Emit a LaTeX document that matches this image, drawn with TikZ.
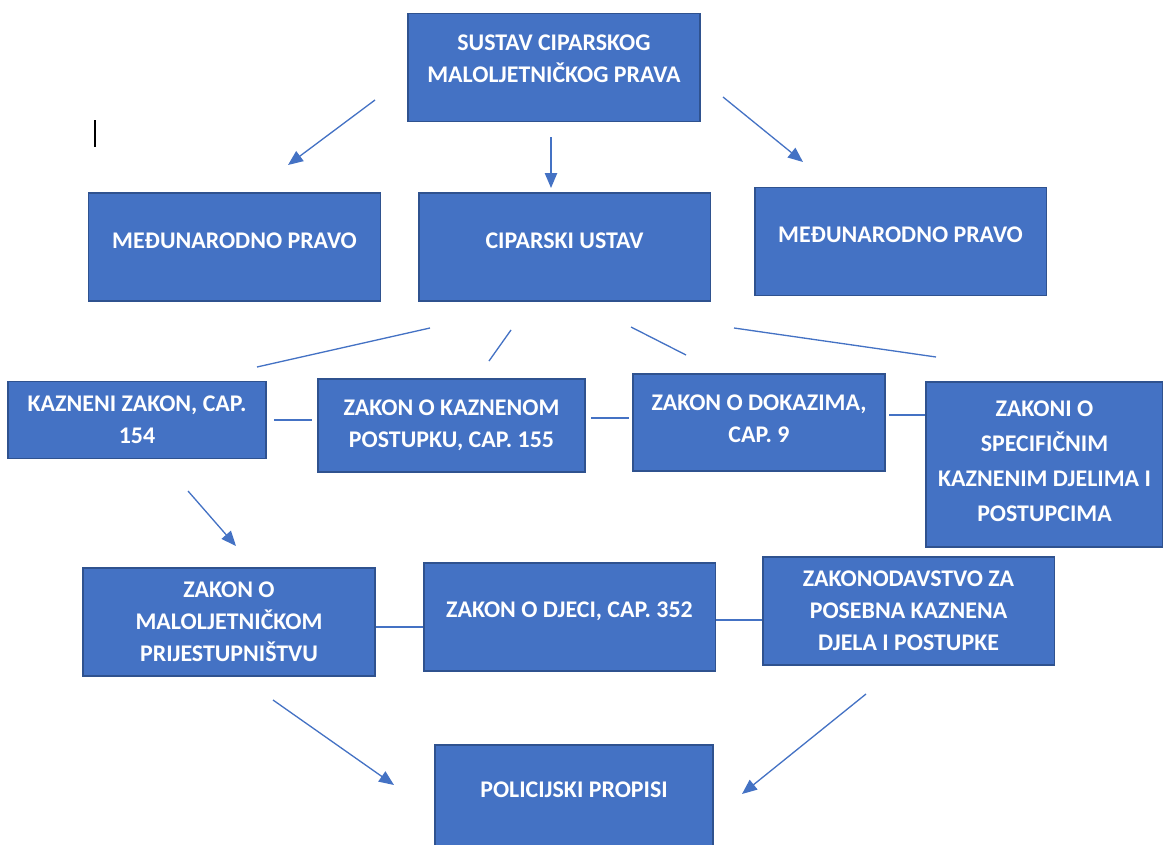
\documentclass[tikz,border=0pt]{standalone}
\usepackage{fontspec}
\setmainfont{Carlito}
\usepackage{tikz}
\usetikzlibrary{arrows.meta}
\definecolor{boxblue}{HTML}{4472C4}
\definecolor{boxline}{HTML}{2F528F}

\begin{document}
\begin{tikzpicture}[
    x=0.02cm, y=-0.02cm,
    lawbox/.style={
      draw=boxline, fill=boxblue, line width=1.1pt, align=center,
      text=white, inner sep=3pt, font=\fontsize{13.6}{18.2}\selectfont\bfseries,
      minimum width=5.84cm, minimum height=2.16cm
    },
    link/.style={draw=boxblue, line width=0.75pt},
    flow/.style={link, -{Triangle[length=8.5pt, width=7pt]}},
  ]
    \useasboundingbox (0,0) rectangle (1163,845);
    \draw[line width=0.8pt] (95,120) -- (95,147);

    \node[lawbox, text depth=0.36cm] (sustav) at (554,67.5) {SUSTAV CIPARSKOG\\MALOLJETNIČKOG PRAVA};
    \node[lawbox, text depth=0.24cm] (medjL) at (234.5,247) {MEĐUNARODNO PRAVO};
    \node[lawbox, text depth=0.24cm] (ustav) at (564.5,247) {CIPARSKI USTAV};
    \node[lawbox, text depth=0.28cm] (medjR) at (900.5,241.5) {MEĐUNARODNO PRAVO};

    \node[lawbox, minimum width=5.16cm, minimum height=1.54cm] (kazneni) at (137,420) {KAZNENI ZAKON, CAP.\\154};
    \node[lawbox, minimum width=5.34cm, minimum height=1.86cm] (postupak) at (451.5,425.5) {ZAKON O KAZNENOM\\POSTUPKU, CAP. 155};
    \node[lawbox, minimum width=5.04cm, minimum height=1.94cm, text depth=0.16cm] (dokazi) at (759,422.5) {ZAKON O DOKAZIMA,\\CAP. 9};
    \node[lawbox, minimum width=4.74cm, minimum height=3.3cm, text depth=0.14cm,
      font=\fontsize{13.6}{19.8}\selectfont\bfseries] (specificni) at (1044.5,464.5) {ZAKONI O\\SPECIFIČNIM\\KAZNENIM DJELIMA I\\POSTUPCIMA};

    \node[lawbox] (maloljet) at (229,622) {ZAKON O\\MALOLJETNIČKOM\\PRIJESTUPNIŠTVU};
    \node[lawbox, text depth=0.29cm] (djeca) at (569.5,617) {ZAKON O DJECI, CAP. 352};
    \node[lawbox] (zakonod) at (908.5,611) {ZAKONODAVSTVO ZA\\POSEBNA KAZNENA\\DJELA I POSTUPKE};

    \node[lawbox, minimum width=5.56cm, text depth=0.36cm] (policija) at (574,799) {POLICIJSKI PROPISI};

    % connector ends
    \coordinate (a1) at (375,100);  \coordinate (a2) at (288,165);
    \coordinate (b1) at (551,137);  \coordinate (b2) at (551,188);
    \coordinate (c1) at (723,97);   \coordinate (c2) at (803,162);
    \coordinate (d1) at (430,328);  \coordinate (d2) at (257,367);
    \coordinate (e1) at (511,330);  \coordinate (e2) at (489,361);
    \coordinate (f1) at (631,327);  \coordinate (f2) at (686,355);
    \coordinate (g1) at (734,328);  \coordinate (g2) at (936,357);
    \coordinate (h1) at (188,491);  \coordinate (h2) at (236,546);
    \coordinate (i1) at (273,700);  \coordinate (i2) at (394,785);
    \coordinate (j1) at (866,694);  \coordinate (j2) at (742,794);

    \draw[flow] (a1) -- (a2);
    \draw[flow] (b1) -- (b2);
    \draw[flow] (c1) -- (c2);
    \draw[link] (d1) -- (d2);
    \draw[link] (e1) -- (e2);
    \draw[link] (f1) -- (f2);
    \draw[link] (g1) -- (g2);
    \draw[flow] (h1) -- (h2);
    \draw[flow] (i1) -- (i2);
    \draw[flow] (j1) -- (j2);

    \draw[link] ([xshift=4pt]kazneni.east) -- ([xshift=-3pt]postupak.west |- kazneni.east);
    \draw[link] ([xshift=3pt]postupak.east |- 0,418) -- ([xshift=-2pt]dokazi.west |- 0,418);
    \draw[link] ([xshift=2pt]dokazi.east |- 0,415) -- (specificni.west |- 0,415);
    \draw[link] (maloljet.east |- 0,627) -- (djeca.west |- 0,627);
    \draw[link] (djeca.east |- 0,620) -- (zakonod.west |- 0,620);
  \end{tikzpicture}
\end{document}
